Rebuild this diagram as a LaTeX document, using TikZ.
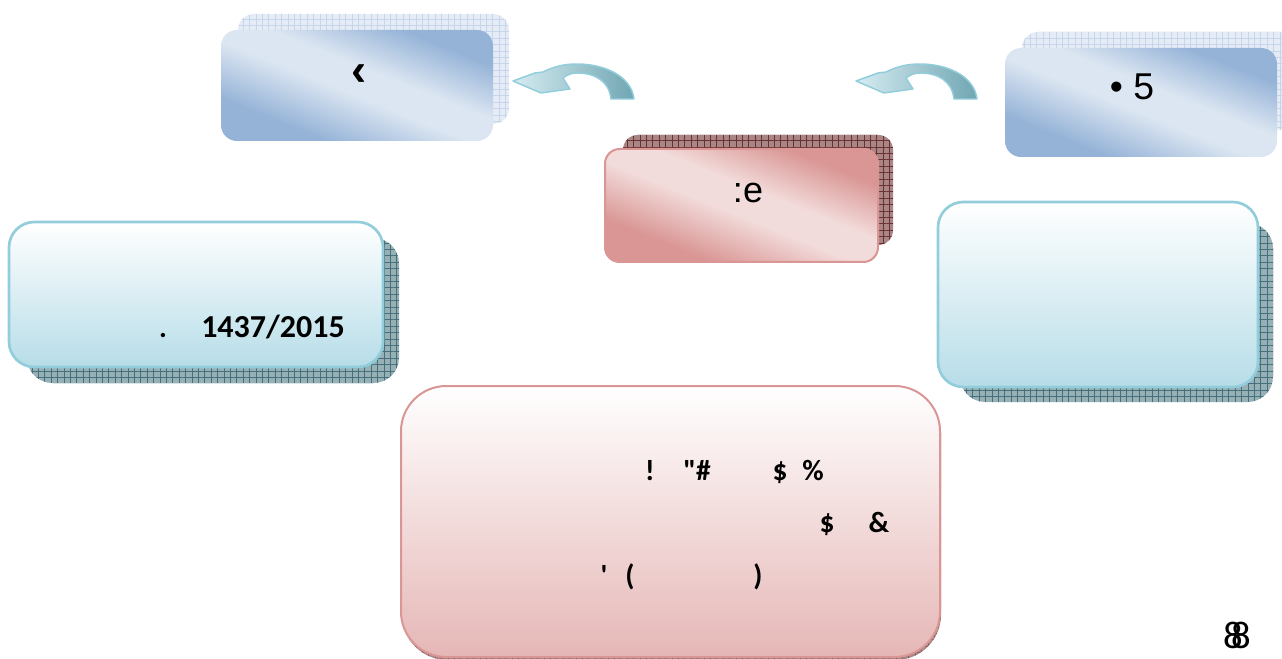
\documentclass[tikz,border=0pt]{standalone}
\usepackage{fontspec}
\setmainfont{Carlito}
\newfontfamily\arialfont{Liberation Sans}
\newfontfamily\rawfont{Carlito}[Ligatures=TeXOff]
\usetikzlibrary{patterns.meta}

\definecolor{bluedark}{RGB}{149,179,215}
\definecolor{bluelight}{RGB}{220,230,242}
\definecolor{bluegridbase}{RGB}{229,236,246}
\definecolor{bluegridline}{RGB}{198,213,235}
\definecolor{reddark}{RGB}{217,150,148}
\definecolor{redlight}{RGB}{242,220,219}
\definecolor{redgridbase}{RGB}{168,134,134}
\definecolor{redgridline}{RGB}{108,48,48}
\definecolor{tealgridbase}{RGB}{150,176,182}
\definecolor{tealgridline}{RGB}{68,112,123}
\definecolor{cyanline}{RGB}{146,205,220}
\definecolor{cyanfill}{RGB}{183,221,232}
\definecolor{pinkfill}{RGB}{229,183,182}
\definecolor{arrowlight}{RGB}{214,236,242}
\definecolor{arrowdark}{RGB}{112,166,178}

\pgfdeclarehorizontalshading{bluesheen}{100bp}{color(0bp)=(bluedark); color(30bp)=(bluedark); color(47bp)=(bluelight); color(56bp)=(bluelight); color(72bp)=(bluedark); color(100bp)=(bluedark)}
\pgfdeclarehorizontalshading{redsheen}{100bp}{color(0bp)=(reddark); color(30bp)=(reddark); color(47bp)=(redlight); color(56bp)=(redlight); color(72bp)=(reddark); color(100bp)=(reddark)}

\tikzset{
  gridshadow/.style={preaction={fill=#1gridbase}, pattern={Hatch[angle=0,distance=4.8pt,line width=0.55pt]}, pattern color=#1gridline},
  bluecard/.style={rounded corners=12pt, shading=bluesheen, shading angle=68},
  redcard/.style={rounded corners=11pt, shading=redsheen, shading angle=68, draw=reddark, line width=1.5pt},
  cyancard/.style={rounded corners=19pt, top color=white, bottom color=cyanfill, draw=cyanline, line width=2pt},
  pinkcard/.style={rounded corners=34pt, top color=white, bottom color=pinkfill, draw=reddark, line width=1.5pt},
  arrowbody/.style={left color=arrowlight, right color=arrowdark, draw=cyanline, line width=1.1pt, line join=round},
  boldtext/.style={inner sep=0.75pt, font=\fontsize{22}{26}\selectfont\bfseries},
  backarrow/.pic={
    \draw[arrowbody] (0,0) -- (22,8) -- (30,9) .. controls (42,15) and (52,17) .. (64,17) .. controls (90,17) and (118,6) .. (121,-18) -- (98,-18) .. controls (96,0) and (82,8) .. (64,8) .. controls (58,8) and (54,6) .. (50,3) -- (57,-8) -- (28,-12) -- cycle ;
  }
}

\begin{document}
\begin{tikzpicture}[x=0.75pt,y=0.75pt,yscale=-1,xscale=1]
\useasboundingbox (0,0) rectangle (1282,659);

%Shape: Shadows
\fill[gridshadow=blue, rounded corners=12pt] (238,14) rectangle (509,124);
\fill[gridshadow=blue, rounded corners=12pt] (1022,32) rectangle (1300,130);
\fill[gridshadow=red, rounded corners=11pt] (623,135) rectangle (893,245);
\fill[gridshadow=teal, rounded corners=19pt] (27,238) rectangle (399,383);
\fill[gridshadow=teal, rounded corners=19pt] (960,223) rectangle (1273,402);
\fill[gridshadow=red, rounded corners=34pt, opacity=0.5] (402,388) rectangle (941,660);

%Shape: Rounded Rectangles
\path[bluecard] (221,30) rectangle (493,141);
\path[bluecard] (1005,48) rectangle (1277,157);
\draw[redcard] (605,149) rectangle (878,262);
\draw[cyancard] (9,222) rectangle (383,367);
\draw[cyancard] (938,202) rectangle (1258,387);
\draw[pinkcard] (401,386) rectangle (940,657);

%Shape: Curved Arrows
\pic at (513,81) {backarrow};
\pic at (856,81) {backarrow};

% Text Node
\draw (359,75) node (guil) [inner sep=0.75pt] [font=\fontsize{34}{38}\selectfont\arialfont\bfseries] {‹};
% Text Node
\draw (1132,87) node (bulletfive) [inner sep=0.75pt] [font=\fontsize{28}{32}\selectfont\arialfont] {• 5};
% Text Node
\draw (748,193) node (colone) [inner sep=0.75pt] [font=\fontsize{27}{31}\selectfont\arialfont] {:e};
% Text Node
\draw (163,338) node (dot) [anchor=base][boldtext] {.};
% Text Node
\draw (273,338) node (year) [anchor=base][boldtext, font=\fontsize{24}{28}\selectfont\bfseries] {1437/2015};
% Text Node
\draw (650,480) node (excl) [anchor=base][boldtext] {!};
% Text Node
\draw (697,480) node (quotehash) [anchor=base][boldtext] {\rawfont "\#};
% Text Node
\draw (780,480) node (dollara) [anchor=base][boldtext] {\$};
% Text Node
\draw (813,480) node (percent) [anchor=base][boldtext] {\%};
% Text Node
\draw (827,532) node (dollarb) [anchor=base][boldtext] {\$};
% Text Node
\draw (879,532) node (amp) [anchor=base][boldtext] {\&};
% Text Node
\draw (604,585) node (tick) [anchor=base][boldtext] {\rawfont '};
% Text Node
\draw (630,585) node (lparen) [anchor=base][boldtext] {(};
% Text Node
\draw (758,585) node (rparen) [anchor=base][boldtext] {)};
% Text Node
\draw (1233,635) node (eighta) [inner sep=0.75pt] [font=\fontsize{29}{33}\selectfont] {8};
% Text Node
\draw (1241,635) node (eightb) [inner sep=0.75pt] [font=\fontsize{29}{33}\selectfont] {8};

\end{tikzpicture}
\end{document}
